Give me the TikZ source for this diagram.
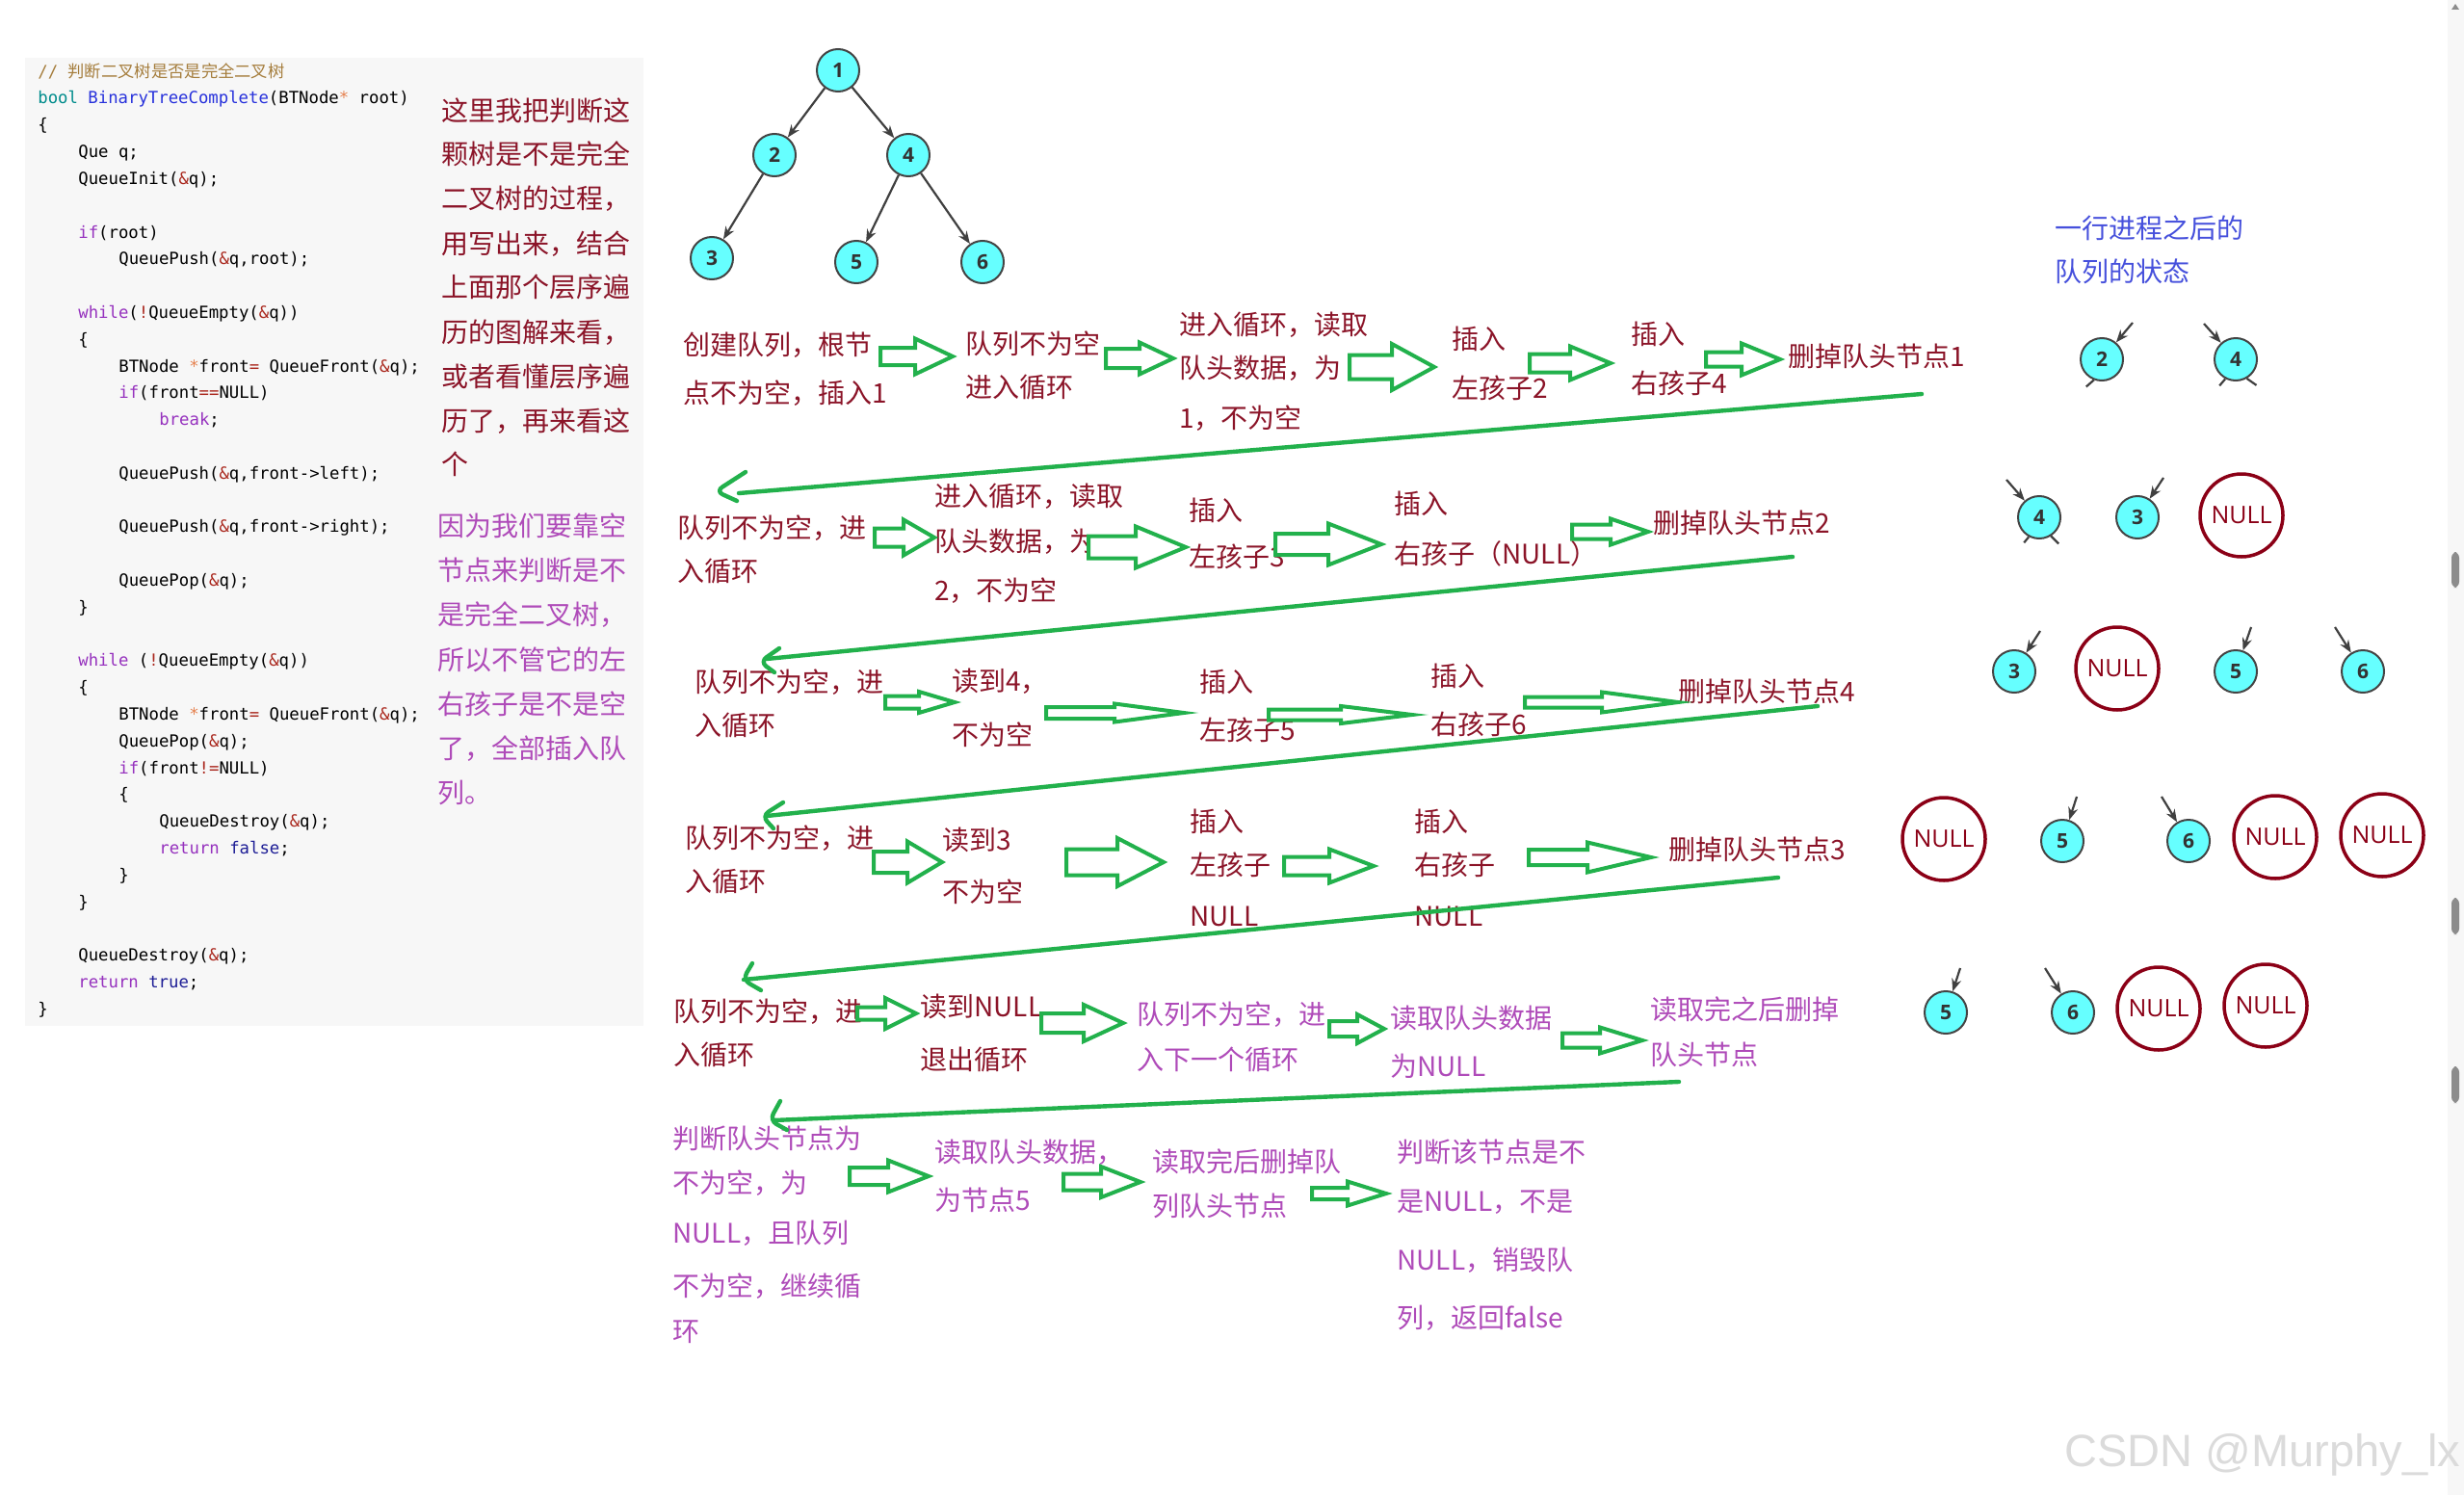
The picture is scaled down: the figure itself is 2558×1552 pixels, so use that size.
\documentclass[tikz,border=0pt]{standalone}
\usepackage{fontspec}
\setmainfont{Noto Sans CJK SC}
\setsansfont{Open Sans}
\setmonofont{DejaVu Sans Mono}
\newfontfamily\wmfont{Liberation Sans}
\usetikzlibrary{arrows.meta}
\definecolor{dred}{RGB}{139,20,40}
\definecolor{purp}{RGB}{175,75,185}
\definecolor{grn}{RGB}{34,177,76}
\definecolor{blu}{RGB}{70,80,220}
\definecolor{cyanf}{RGB}{102,255,255}
\definecolor{nodeb}{RGB}{68,68,68}
\definecolor{nulred}{RGB}{139,0,22}
\definecolor{codebg}{RGB}{247,247,247}
\definecolor{kwc}{RGB}{150,50,190}
\definecolor{tyc}{RGB}{0,140,140}
\definecolor{fnc}{RGB}{40,50,220}
\definecolor{opc}{RGB}{170,40,30}
\definecolor{ltc}{RGB}{30,30,150}
\definecolor{cmc}{RGB}{165,125,60}
\definecolor{stc}{RGB}{230,130,80}
\newcommand\ckw[1]{\textcolor{kwc}{#1}}
\newcommand\cty[1]{\textcolor{tyc}{#1}}
\newcommand\cfn[1]{\textcolor{fnc}{#1}}
\newcommand\cop[1]{\textcolor{opc}{#1}}
\newcommand\clt[1]{\textcolor{ltc}{#1}}
\newcommand\cst[1]{\textcolor{stc}{#1}}
\newcommand\garrow[6]{% x1, xh, x2, yc, H, S
  \draw[garr] (#1,{#4-#6/2}) -- (#2,{#4-#6/2}) -- (#2,{#4-#5/2}) -- (#3,#4) -- (#2,{#4+#5/2}) -- (#2,{#4+#6/2}) -- (#1,{#4+#6/2}) -- cycle;}
\tikzset{
  lbl/.style={anchor=west, inner sep=0pt, text height=12.3pt, text depth=1.7pt, font=\fontsize{14}{16}\selectfont},
  code/.style={anchor=west, inner sep=0pt, text height=6.9pt, text depth=1.7pt, font=\ttfamily\fontsize{8.65}{10}\selectfont},
  tnode/.style={circle, draw=nodeb, line width=1pt, fill=cyanf, minimum size=22pt, inner sep=0pt, font=\sffamily\bfseries\fontsize{10.5}{12}\selectfont, text=black!80},
  nulln/.style={circle, draw=nulred, line width=1.75pt, minimum size=43pt, inner sep=0pt, text=nulred, font=\sffamily\fontsize{12.5}{14}\selectfont},
  tedge/.style={draw=black!75, line width=1.1pt, -{Stealth[length=6.5pt,width=5pt]}},
  stub/.style={draw=black!75, line width=1.1pt},
  garr/.style={draw=grn, line width=2pt, fill=white, line join=miter},
  gline/.style={draw=grn, line width=2.2pt, line cap=round, line join=round},
}
\begin{document}
\begin{tikzpicture}[x=0.5pt,y=-0.5pt]
\useasboundingbox (0,0) rectangle (2558,1552);
\fill[white] (0,0) rectangle (2558,1552);
% code panel
\fill[codebg] (26,60) rectangle (668,1065);
% scrollbar
\fill[black!3] (2541,0) rectangle (2558,1552);
\fill[black!45] (2545,10) -- (2549,4) -- (2553,10) -- cycle;
\fill[black!45, rounded corners=3pt] (2545,573) rectangle (2553,610);
\fill[black!45, rounded corners=3pt] (2545,932) rectangle (2553,970);
\fill[black!45, rounded corners=3pt] (2545,1107) rectangle (2553,1145);

% ---------- code ----------
\node[code] (c0) at (39,75) {\textcolor{cmc}{// {\rmfamily 判断二叉树是否是完全二叉树}}};
\node[code] (c1) at (39,102.8) {\cty{bool} \cfn{BinaryTreeComplete}(BTNode\cst{*} root)};
\node[code] (c2) at (39,130.6) {\{};
\node[code] (c3) at (81,158.4) {Que q;};
\node[code] (c4) at (81,186.2) {QueueInit(\cop{\&}q);};
\node[code] (c6) at (81,241.8) {\ckw{if}(root)};
\node[code] (c7) at (123,269.6) {QueuePush(\cop{\&}q,root);};
\node[code] (c9) at (81,325.2) {\ckw{while}(\cop{!}QueueEmpty(\cop{\&}q))};
\node[code] (c10) at (81,353) {\{};
\node[code] (c11) at (123,380.8) {BTNode \cst{*}front\cop{=} QueueFront(\cop{\&}q);};
\node[code] (c12) at (123,408.6) {\ckw{if}(front\cop{==}NULL)};
\node[code] (c13) at (165,436.4) {\ckw{break};};
\node[code] (c15) at (123,492) {QueuePush(\cop{\&}q,front->left);};
\node[code] (c17) at (123,547.6) {QueuePush(\cop{\&}q,front->right);};
\node[code] (c19) at (123,603.2) {QueuePop(\cop{\&}q);};
\node[code] (c20) at (81,631) {\}};
\node[code] (c22) at (81,686.6) {\ckw{while} (\cop{!}QueueEmpty(\cop{\&}q))};
\node[code] (c23) at (81,714.4) {\{};
\node[code] (c24) at (123,742.2) {BTNode \cst{*}front\cop{=} QueueFront(\cop{\&}q);};
\node[code] (c25) at (123,770) {QueuePop(\cop{\&}q);};
\node[code] (c26) at (123,797.8) {\ckw{if}(front\cop{!=}NULL)};
\node[code] (c27) at (123,825.6) {\{};
\node[code] (c28) at (165,853.4) {QueueDestroy(\cop{\&}q);};
\node[code] (c29) at (165,881.2) {\ckw{return} \clt{false};};
\node[code] (c30) at (123,909) {\}};
\node[code] (c31) at (81,936.8) {\}};
\node[code] (c33) at (81,992.4) {QueueDestroy(\cop{\&}q);};
\node[code] (c34) at (81,1020.2) {\ckw{return} \clt{true};};
\node[code] (c35) at (39,1048) {\}};

% ---------- side notes ----------
\begin{scope}[every node/.style={lbl, text=dred}]
\node (n1) at (458,115) {这里我把判断这};
\node (n2) at (458,160) {颗树是不是完全};
\node (n3) at (458,206) {二叉树的过程，};
\node (n4) at (458,253) {用写出来，结合};
\node (n5) at (458,298) {上面那个层序遍};
\node (n6) at (458,345) {历的图解来看，};
\node (n7) at (458,391) {或者看懂层序遍};
\node (n8) at (458,437) {历了，再来看这};
\node (n9) at (458,482) {个};
\end{scope}
\begin{scope}[every node/.style={lbl, text=purp}]
\node (p1) at (454,546) {因为我们要靠空};
\node (p2) at (454,592) {节点来判断是不};
\node (p3) at (454,638) {是完全二叉树，};
\node (p4) at (454,685) {所以不管它的左};
\node (p5) at (454,731) {右孩子是不是空};
\node (p6) at (454,777) {了，全部插入队};
\node (p7) at (454,823) {列。};
\end{scope}

% ---------- tree ----------
\node[tnode] (t1) at (870,73) {1};
\node[tnode] (t2) at (804,161) {2};
\node[tnode] (t4) at (943,161) {4};
\node[tnode] (t3) at (739,268) {3};
\node[tnode] (t5) at (889,272) {5};
\node[tnode] (t6) at (1020,272) {6};
\draw[tedge] (t1) -- (t2);
\draw[tedge] (t1) -- (t4);
\draw[tedge] (t2) -- (t3);
\draw[tedge] (t4) -- (t5);
\draw[tedge] (t4) -- (t6);

% ---------- flow text ----------
\begin{scope}[every node/.style={lbl, text=dred}]
% row 1
\node (a1) at (709,358) {创建队列，根节};
\node (a2) at (709,408) {点不为空，插入1};
\node (a3) at (1002,357) {队列不为空};
\node (a4) at (1002,402) {进入循环};
\node (a5) at (1224,337) {进入循环，读取};
\node (a6) at (1224,382) {队头数据，为};
\node (a7) at (1224,434) {1，不为空};
\node (a8) at (1507,352) {插入};
\node (a9) at (1507,403) {左孩子2};
\node (a10) at (1693,347) {插入};
\node (a11) at (1693,398) {右孩子4};
\node (a12) at (1856,370) {删掉队头节点1};
% row 2
\node (b1) at (703,548) {队列不为空，进};
\node (b2) at (703,593) {入循环};
\node (b3) at (970,515) {进入循环，读取};
\node (b4) at (970,562) {队头数据，为};
\node (b5) at (970,613) {2，不为空};
\node (b6) at (1234,530) {插入};
\node (b7) at (1234,578) {左孩子3};
\node (b8) at (1447,523) {插入};
\node (b9) at (1447,575) {右孩子（NULL）};
\node (b10) at (1716,543) {删掉队头节点2};
% row 3
\node (d1) at (721,708) {队列不为空，进};
\node (d2) at (721,753) {入循环};
\node (d3) at (988,707) {读到4，};
\node (d4) at (988,763) {不为空};
\node (d5) at (1245,708) {插入};
\node (d6) at (1245,758) {左孩子5};
\node (d7) at (1485,702) {插入};
\node (d8) at (1485,752) {右孩子6};
\node (d9) at (1742,718) {删掉队头节点4};
% row 4
\node (e1) at (711,870) {队列不为空，进};
\node (e2) at (711,915) {入循环};
\node (e3) at (978,872) {读到3};
\node (e4) at (978,926) {不为空};
\node (e5) at (1235,853) {插入};
\node (e6) at (1235,898) {左孩子};
\node (e7) at (1235,951) {NULL};
\node (e8) at (1468,853) {插入};
\node (e9) at (1468,898) {右孩子};
\node (e10) at (1468,951) {NULL};
\node (e11) at (1732,882) {删掉队头节点3};
% row 5
\node (f1) at (699,1050) {队列不为空，进};
\node (f2) at (699,1095) {入循环};
\node (f3) at (955,1045) {读到NULL};
\node (f4) at (955,1100) {退出循环};
\end{scope}
\begin{scope}[every node/.style={lbl, text=purp}]
\node (f5) at (1180,1053) {队列不为空，进};
\node (f6) at (1180,1100) {入下一个循环};
\node (f7) at (1443,1057) {读取队头数据};
\node (f8) at (1443,1107) {为NULL};
\node (f9) at (1713,1048) {读取完之后删掉};
\node (f10) at (1713,1095) {队头节点};
% row 6
\node (g1) at (698,1182) {判断队头节点为};
\node (g2) at (698,1228) {不为空，为};
\node (g3) at (698,1280) {NULL，且队列};
\node (g4) at (698,1335) {不为空，继续循};
\node (g5) at (698,1382) {环};
\node (g6) at (970,1196) {读取队头数据，};
\node (g7) at (970,1246) {为节点5};
\node (g8) at (1196,1206) {读取完后删掉队};
\node (g9) at (1196,1252) {列队头节点};
\node (g10) at (1450,1196) {判断该节点是不};
\node (g11) at (1450,1247) {是NULL，不是};
\node (g12) at (1450,1308) {NULL，销毁队};
\node (g13) at (1450,1368) {列，返回false};
\end{scope}

% ---------- green block arrows ----------
\garrow{914}{950}{989}{370}{37}{18}
\garrow{1148}{1183}{1218}{372}{33}{20}
\garrow{1401}{1445}{1489}{381}{48}{25}
\garrow{1588}{1630}{1672}{377}{35}{19}
\garrow{1771}{1808}{1848}{373}{33}{15}
\garrow{908}{938}{970}{558}{37}{19}
\garrow{1130}{1179}{1231}{568}{43}{23}
\garrow{1324}{1379}{1434}{565}{43}{22}
\garrow{1632}{1672}{1711}{552}{27}{15}
\garrow{919}{954}{991}{729}{22}{13}
\garrow{1086}{1157}{1229}{740}{19}{12}
\garrow{1317}{1392}{1466}{742}{18}{11}
\garrow{1583}{1663}{1742}{729}{21}{11}
\garrow{907}{942}{978}{895}{43}{22}
\garrow{1107}{1160}{1208}{895}{50}{27}
\garrow{1333}{1380}{1426}{899}{35}{19}
\garrow{1587}{1648}{1714}{890}{31}{16}
\garrow{890}{919}{951}{1052}{32}{13}
\garrow{1081}{1125}{1166}{1062}{38}{20}
\garrow{1380}{1409}{1437}{1068}{30}{16}
\garrow{1622}{1661}{1705}{1080}{27}{15}
\garrow{882}{922}{964}{1221}{33}{18}
\garrow{1104}{1143}{1184}{1227}{32}{17}
\garrow{1362}{1399}{1439}{1239}{25}{12}

% ---------- long return arrows ----------
\coordinate (l1s) at (1995,409); \coordinate (l1e) at (767,512);
\coordinate (l1a) at (774,490); \coordinate (l1t) at (743,510); \coordinate (l1b) at (765,520);
\coordinate (l2s) at (1861,578); \coordinate (l2e) at (796,684);
\coordinate (l2a) at (809,673); \coordinate (l2t) at (789,687); \coordinate (l2b) at (804,698);
\coordinate (l3s) at (1887,733); \coordinate (l3e) at (796,847);
\coordinate (l3a) at (813,833); \coordinate (l3t) at (791,847); \coordinate (l3b) at (803,860);
\coordinate (l4s) at (1846,911); \coordinate (l4e) at (772,1017);
\coordinate (l4a) at (781,1000); \coordinate (l4t) at (771,1017); \coordinate (l4b) at (790,1028);
\coordinate (l5s) at (1743,1123); \coordinate (l5e) at (803,1163);
\coordinate (l5a) at (810,1143); \coordinate (l5t) at (799,1163); \coordinate (l5b) at (817,1173);
\foreach \k in {1,...,5}{
  \draw[gline] (l\k s) -- (l\k e);
  \draw[gline, rounded corners=4pt] (l\k a) -- (l\k t) -- (l\k b);
}

% ---------- queue states ----------
\node[lbl, text=blu] (h1) at (2133,237) {一行进程之后的};
\node[lbl, text=blu] (h2) at (2133,282) {队列的状态};

% row 1
\node[tnode] (q1a) at (2182,373) {2};
\node[tnode] (q1b) at (2321,373) {4};
\coordinate (q1ai) at (2214,335); \coordinate (q1bi) at (2288,336);
\draw[tedge] (q1ai) -- (q1a);
\draw[tedge] (q1bi) -- (q1b);
\draw[stub] (q1a.249) -- ++(-8,7);
\draw[stub] (q1b.242) -- ++(-6,7);
\draw[stub] (q1b.300) -- ++(10,7);
% row 2
\node[tnode] (q2a) at (2117,537) {4};
\node[tnode] (q2b) at (2219,537) {3};
\node[nulln] (q2c) at (2327,535) {NULL};
\coordinate (q2ai) at (2083,498); \coordinate (q2bi) at (2246,496);
\draw[tedge] (q2ai) -- (q2a);
\draw[tedge] (q2bi) -- (q2b);
\draw[stub] (q2a.242) -- ++(-5,6);
\draw[stub] (q2a.302) -- ++(8,8);
% row 3
\node[tnode] (q3a) at (2091,697) {3};
\node[nulln] (q3b) at (2198,694) {NULL};
\node[tnode] (q3c) at (2321,697) {5};
\node[tnode] (q3d) at (2453,697) {6};
\coordinate (q3ai) at (2118,655); \coordinate (q3ci) at (2337,651); \coordinate (q3di) at (2424,651);
\draw[tedge] (q3ai) -- (q3a);
\draw[tedge] (q3ci) -- (q3c);
\draw[tedge] (q3di) -- (q3d);
% row 4
\node[nulln] (q4a) at (2018,871) {NULL};
\node[tnode] (q4b) at (2141,873) {5};
\node[tnode] (q4c) at (2272,873) {6};
\node[nulln] (q4d) at (2362,869) {NULL};
\node[nulln] (q4e) at (2473,867) {NULL};
\coordinate (q4bi) at (2156,827); \coordinate (q4ci) at (2244,827);
\draw[tedge] (q4bi) -- (q4b);
\draw[tedge] (q4ci) -- (q4c);
% row 5
\node[tnode] (q5a) at (2020,1051) {5};
\node[tnode] (q5b) at (2152,1051) {6};
\node[nulln] (q5c) at (2241,1047) {NULL};
\node[nulln] (q5d) at (2352,1044) {NULL};
\coordinate (q5ai) at (2035,1005); \coordinate (q5bi) at (2123,1005);
\draw[tedge] (q5ai) -- (q5a);
\draw[tedge] (q5bi) -- (q5b);

% watermark
\node[anchor=west, inner sep=0pt, text=black!14, font=\wmfont\fontsize{23.5}{26}\selectfont] (wm) at (2143,1510) {CSDN @Murphy\_lx};
\end{tikzpicture}
\end{document}
